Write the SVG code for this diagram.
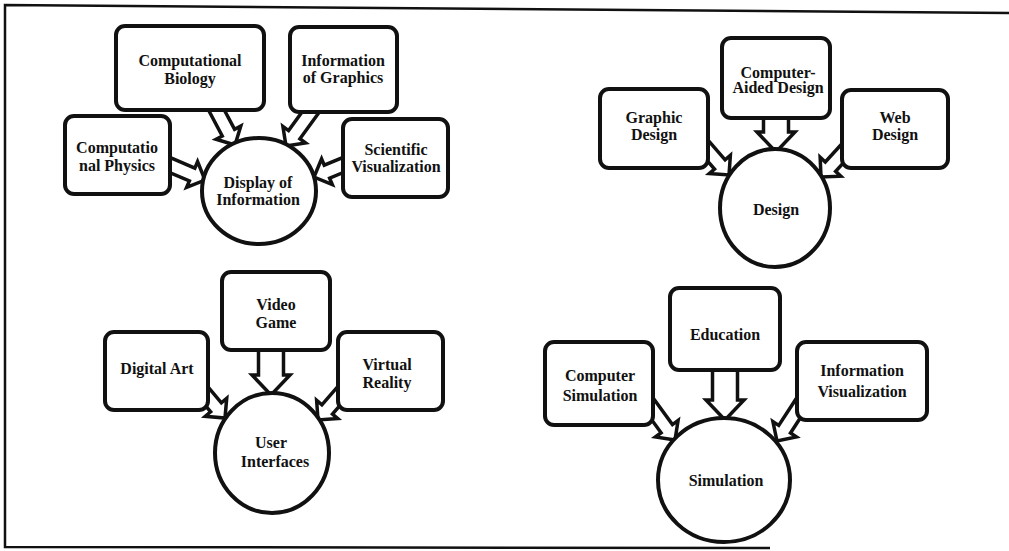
<svg xmlns="http://www.w3.org/2000/svg" xmlns:xlink="http://www.w3.org/1999/xlink" width="1009" height="551" viewBox="0 0 1009 551">
  <style>
    .frame { fill: none; stroke: #111; stroke-width: 2.5; }
    .box { fill: #fff; stroke: #111; stroke-width: 4; }
    .hub { fill: #fff; stroke: #111; stroke-width: 4; }
    .arrow { fill: #fff; stroke: #111; stroke-width: 3.5; stroke-linejoin: miter; }
    text { font-family: "Liberation Serif", "Times New Roman", serif; font-weight: bold; font-size: 16px; text-anchor: middle; fill: #111; }
  </style>
  <defs>
    <!-- hollow block arrows, tip at the origin, pointing along +x -->
    <polygon id="arrowSmall" points="-45,-7 -14,-7 -14,-14 0,0 -14,14 -14,7 -45,7"/>
    <polygon id="arrowWide" points="-60,-12.5 -20,-12.5 -20,-19 0,0 -20,19 -20,12.5 -60,12.5"/>
  </defs>

  <rect width="1009" height="551" fill="#fff"/>

  <!-- outer frame -->
  <g id="frame">
    <polyline class="frame" points="1009,13 5,5 5,547 770,548"/>
  </g>

  <!-- connectors -->
  <g id="connectors" class="arrow">
    <!-- Display of Information -->
    <use xlink:href="#arrowSmall" transform="translate(235,145) rotate(62)"/>
    <use xlink:href="#arrowSmall" transform="translate(286,146) rotate(126)"/>
    <use xlink:href="#arrowSmall" transform="translate(205,180) rotate(23)"/>
    <use xlink:href="#arrowSmall" transform="translate(314,177) rotate(157.5)"/>
    <!-- Design -->
    <use xlink:href="#arrowWide" transform="translate(776,152) rotate(90)"/>
    <use xlink:href="#arrowSmall" transform="translate(729,175) rotate(49)"/>
    <use xlink:href="#arrowSmall" transform="translate(821,177) rotate(132.5)"/>
    <!-- User Interfaces -->
    <use xlink:href="#arrowWide" transform="translate(271,395) rotate(90)"/>
    <use xlink:href="#arrowSmall" transform="translate(225,418) rotate(50)"/>
    <use xlink:href="#arrowSmall" transform="translate(318,420) rotate(131)"/>
    <!-- Simulation -->
    <use xlink:href="#arrowWide" transform="translate(725,420) rotate(90)"/>
    <use xlink:href="#arrowSmall" transform="translate(675,440) rotate(54)"/>
    <use xlink:href="#arrowSmall" transform="translate(777,441) rotate(123)"/>
  </g>

  <!-- Display of Information cluster -->
  <g id="computational-biology">
    <rect class="box" x="116" y="26" width="148" height="84" rx="9"/>
    <text x="190" y="66">Computational</text>
    <text x="190" y="84">Biology</text>
  </g>
  <g id="information-of-graphics">
    <rect class="box" x="290" y="27" width="107" height="85" rx="9"/>
    <text x="343" y="66">Information</text>
    <text x="343" y="83">of Graphics</text>
  </g>
  <g id="computational-physics">
    <rect class="box" x="65" y="116" width="105" height="78" rx="9"/>
    <text x="117" y="153">Computatio</text>
    <text x="117" y="171">nal Physics</text>
  </g>
  <g id="scientific-visualization">
    <rect class="box" x="343" y="119" width="105" height="78" rx="9"/>
    <text x="396" y="155">Scientific</text>
    <text x="396" y="172">Visualization</text>
  </g>
  <g id="display-of-information">
    <ellipse class="hub" cx="259" cy="191" rx="57" ry="53"/>
    <text x="258" y="188">Display of</text>
    <text x="258" y="205">Information</text>
  </g>

  <!-- Design cluster -->
  <g id="computer-aided-design">
    <rect class="box" x="722" y="38" width="108" height="80" rx="9"/>
    <text x="778" y="78">Computer-</text>
    <text x="778" y="93">Aided Design</text>
  </g>
  <g id="graphic-design">
    <rect class="box" x="600" y="89" width="108" height="79" rx="9"/>
    <text x="654" y="123">Graphic</text>
    <text x="654" y="140">Design</text>
  </g>
  <g id="web-design">
    <rect class="box" x="842" y="90" width="106" height="78" rx="9"/>
    <text x="895" y="123">Web</text>
    <text x="895" y="140">Design</text>
  </g>
  <g id="design">
    <ellipse class="hub" cx="775" cy="208" rx="55" ry="59"/>
    <text x="776" y="215">Design</text>
  </g>

  <!-- User Interfaces cluster -->
  <g id="video-game">
    <rect class="box" x="222" y="272" width="108" height="78" rx="9"/>
    <text x="276" y="310">Video</text>
    <text x="276" y="328">Game</text>
  </g>
  <g id="digital-art">
    <rect class="box" x="105" y="332" width="103" height="78" rx="9"/>
    <text x="157" y="374">Digital Art</text>
  </g>
  <g id="virtual-reality">
    <rect class="box" x="338" y="332" width="105" height="78" rx="9"/>
    <text x="387" y="370">Virtual</text>
    <text x="387" y="388">Reality</text>
  </g>
  <g id="user-interfaces">
    <ellipse class="hub" cx="272" cy="453" rx="57" ry="60"/>
    <text x="271" y="448">User</text>
    <text x="275" y="467">Interfaces</text>
  </g>

  <!-- Simulation cluster -->
  <g id="education">
    <rect class="box" x="670" y="288" width="110" height="82" rx="9"/>
    <text x="725" y="340">Education</text>
  </g>
  <g id="computer-simulation">
    <rect class="box" x="545" y="342" width="108" height="83" rx="9"/>
    <text x="600" y="381">Computer</text>
    <text x="600" y="401">Simulation</text>
  </g>
  <g id="information-visualization">
    <rect class="box" x="797" y="342" width="130" height="78" rx="9"/>
    <text x="862" y="376">Information</text>
    <text x="862" y="397">Visualization</text>
  </g>
  <g id="simulation">
    <ellipse class="hub" cx="724" cy="480" rx="66" ry="62"/>
    <text x="726" y="486">Simulation</text>
  </g>
</svg>
